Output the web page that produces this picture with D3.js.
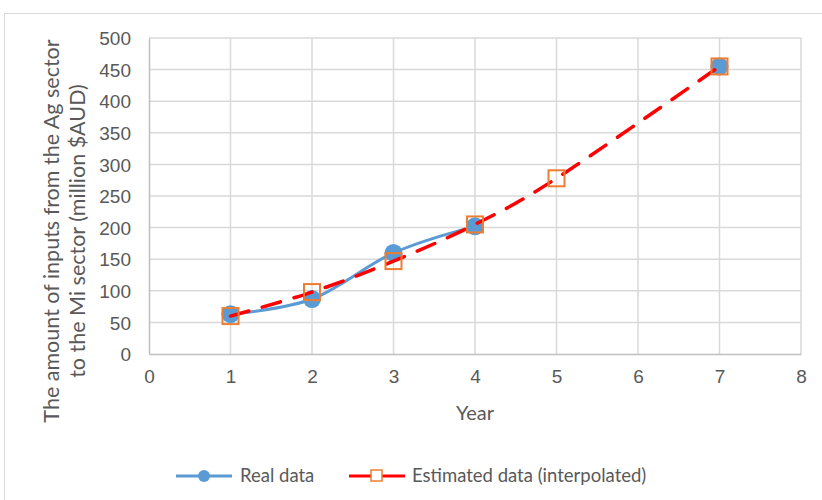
<!DOCTYPE html>
<html>
<head>
<meta charset="utf-8">
<script src="https://cdn.jsdelivr.net/npm/d3@7"></script>
<style>
  body { margin: 0; background: #fff; }
  svg { font-family: Lato, "Open Sans", sans-serif; }
  .tick text { fill: #595959; font-size: 19px; }
</style>
</head>
<body>
<svg id="chart"></svg>
<script>
// data
const years = [1, 2, 3, 4, 5, 6, 7];
const realData = [63, 87, 160, 202, null, null, 455];
const estimatedData = [60, 98, 147, 205, 278, null, 455];
const xTicks = [0, 1, 2, 3, 4, 5, 6, 7, 8];
const yTicks = [0, 50, 100, 150, 200, 250, 300, 350, 400, 450, 500];

let width = 822;
let height = 500;
let margin = {left: 149, top: 38, right: 21, bottom: 146};

let svg = d3.select('#chart')
  .attr('width', width)
  .attr('height', height);

// outer chart frame
svg.append('rect')
  .attr('x', 4.5).attr('y', 13.5)
  .attr('width', width + 10).attr('height', height)
  .attr('fill', 'none')
  .attr('stroke', '#d9d9d9');

let xScale = d3.scaleLinear().domain([0, 8]).range([margin.left, width - margin.right]);
let yScale = d3.scaleLinear().domain([0, 500]).range([height - margin.bottom, margin.top]);

// gridlines
svg.append('g').selectAll('line')
  .data(yTicks.slice(1))
  .enter().append('line')
  .attr('x1', xScale(0)).attr('x2', xScale(8))
  .attr('y1', d => yScale(d)).attr('y2', d => yScale(d))
  .attr('stroke', '#d9d9d9').attr('stroke-width', 1.5);

svg.append('g').selectAll('line')
  .data(xTicks.slice(1))
  .enter().append('line')
  .attr('x1', d => xScale(d)).attr('x2', d => xScale(d))
  .attr('y1', yScale(0)).attr('y2', yScale(500))
  .attr('stroke', '#d9d9d9').attr('stroke-width', 1.5);

// axes
let xAxis = d3.axisBottom(xScale).tickValues(xTicks).tickSize(0).tickPadding(16);
let yAxis = d3.axisLeft(yScale).tickValues(yTicks).tickSize(0).tickPadding(18);

let gX = svg.append('g')
  .attr('transform', 'translate(0,' + yScale(0) + ')')
  .call(xAxis);
gX.select('.domain').attr('stroke', '#bfbfbf').attr('stroke-width', 1.5);

let gY = svg.append('g')
  .attr('transform', 'translate(' + xScale(0) + ',0)')
  .call(yAxis);
gY.select('.domain').attr('stroke', '#bfbfbf').attr('stroke-width', 1.5);
gY.selectAll('.tick text').attr('dy', '0.35em');

// axis titles
svg.append('text')
  .attr('x', xScale(4)).attr('y', 420)
  .attr('text-anchor', 'middle')
  .attr('fill', '#595959').attr('font-size', 20)
  .text('Year');

let yTitle = svg.append('text')
  .attr('transform', 'translate(59,231) rotate(-90)')
  .attr('text-anchor', 'middle')
  .attr('fill', '#595959').attr('font-size', 21.5);
yTitle.append('tspan').attr('x', 0).attr('dy', 0).text('The amount of inputs from the Ag sector');
yTitle.append('tspan').attr('x', 0).attr('dy', 26).text('to the Mi sector (million $AUD)');

// series
let realPts = years.map((y, i) => ({x: y, v: realData[i]})).filter(d => d.v != null);
let estPts = years.map((y, i) => ({x: y, v: estimatedData[i]})).filter(d => d.v != null);

let line = d3.line()
  .defined(d => d.v != null)
  .x(d => xScale(d.x))
  .y(d => yScale(d.v))
  .curve(d3.curveCardinal.tension(0));

// real data: line breaks at the missing years
svg.append('path')
  .datum(years.map((y, i) => ({x: y, v: realData[i]})))
  .attr('d', line)
  .attr('fill', 'none')
  .attr('stroke', '#5b9bd5')
  .attr('stroke-width', 3)
  .attr('stroke-linecap', 'round');

svg.append('g').selectAll('circle')
  .data(realPts)
  .enter().append('circle')
  .attr('cx', d => xScale(d.x))
  .attr('cy', d => yScale(d.v))
  .attr('r', 9)
  .attr('fill', '#5b9bd5');

// estimated data: gaps bridged
svg.append('path')
  .datum(estPts)
  .attr('d', line)
  .attr('fill', 'none')
  .attr('stroke', '#ff0000')
  .attr('stroke-width', 3.5)
  .attr('stroke-linecap', 'round')
  .attr('stroke-dasharray', '19 14');

svg.append('g').selectAll('rect')
  .data(estPts)
  .enter().append('rect')
  .attr('x', d => xScale(d.x) - 8)
  .attr('y', d => yScale(d.v) - 8)
  .attr('width', 16).attr('height', 16)
  .attr('fill', 'none')
  .attr('stroke', '#ed7d31')
  .attr('stroke-width', 2);

// legend
let ly = 476;
let legend = svg.append('g');
legend.append('line')
  .attr('x1', 176).attr('x2', 232).attr('y1', ly).attr('y2', ly)
  .attr('stroke', '#5b9bd5').attr('stroke-width', 3);
legend.append('circle')
  .attr('cx', 204).attr('cy', ly).attr('r', 6)
  .attr('fill', '#5b9bd5');
legend.append('text')
  .attr('x', 240).attr('y', ly).attr('dy', '0.35em')
  .attr('fill', '#595959').attr('font-size', 18.5)
  .text('Real data');

legend.append('line')
  .attr('x1', 349).attr('x2', 405).attr('y1', ly).attr('y2', ly)
  .attr('stroke', '#ff0000').attr('stroke-width', 3);
legend.append('rect')
  .attr('x', 371).attr('y', ly - 6)
  .attr('width', 11).attr('height', 11)
  .attr('fill', '#fff')
  .attr('stroke', '#ed7d31').attr('stroke-width', 1.5);
legend.append('text')
  .attr('x', 412).attr('y', ly).attr('dy', '0.35em')
  .attr('fill', '#595959').attr('font-size', 18.5)
  .text('Estimated data (interpolated)');
</script>
</body>
</html>
